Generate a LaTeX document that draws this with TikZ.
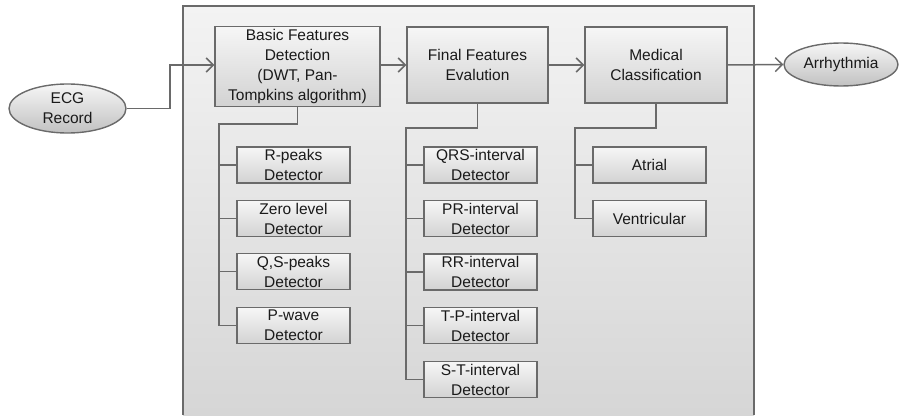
\documentclass[tikz,border=0pt]{standalone}
\usepackage{fontspec}
\setmainfont{Liberation Sans}
\usetikzlibrary{arrows.meta,shapes.geometric}
\definecolor{bordergray}{HTML}{6A6A6A}
\definecolor{boxtop}{HTML}{F6F6F6}
\definecolor{boxbot}{HTML}{D2D2D2}
\definecolor{paneltop}{HTML}{F3F3F3}
\definecolor{panelbot}{HTML}{D6D6D6}
\definecolor{txt}{HTML}{1A1A1A}
\begin{document}
\begin{tikzpicture}[x=1pt,y=-1pt,
  box/.style={draw=bordergray, line width=1.4pt, top color=boxtop, bottom color=boxbot,
    align=center, inner sep=0pt, font=\fontsize{15.5}{20}\selectfont, text=txt},
  mainbox/.style={box, minimum width=#1, minimum height=78pt},
  childbox/.style={box, minimum width=113pt, minimum height=36pt},
  oval/.style={ellipse, draw=bordergray, line width=1.4pt, top color=boxtop, bottom color=boxbot!92!black,
    align=center, inner sep=0pt, font=\fontsize{15.5}{20}\selectfont, text=txt},
  conn/.style={draw=bordergray, line width=1.5pt},
  arrow/.style={conn, -{Straight Barb[length=7pt,width=14pt,line width=1.5pt]}}
]
\useasboundingbox (0,0) rectangle (899,415);
% panel
\fill[top color=paneltop, bottom color=panelbot] (183,6) rectangle (754,415);
\draw[conn] (183,415) -- (183,6) -- (754,6) -- (754,415);

% main boxes
\node[mainbox=165pt, minimum height=80pt] (basic) at (297.5,66.5) {Basic Features\\Detection\\(DWT, Pan-\\Tompkins algorithm)};
\node[mainbox=141pt, minimum height=76pt] (final) at (477.5,65) {Final Features\\Evalution};
\node[mainbox=142pt, minimum height=76pt] (medical) at (656,65) {Medical\\Classification};

\node[oval, minimum width=117pt, minimum height=49pt] (ecg) at (67.5,108.5) {ECG\\Record};
\node[oval, minimum width=114pt, minimum height=43pt] (arr) at (841,64.5) {Arrhythmia};

% children of basic
\node[childbox] (b1) at (293.5,165) {R-peaks\\Detector};
\node[childbox] (b2) at (293.5,218.5) {Zero level\\Detector};
\node[childbox] (b3) at (293.5,271.5) {Q,S-peaks\\Detector};
\node[childbox] (b4) at (293.5,325.5) {P-wave\\Detector};

% children of final
\node[childbox] (f1) at (480.5,165) {QRS-interval\\Detector};
\node[childbox] (f2) at (480.5,218.5) {PR-interval\\Detector};
\node[childbox] (f3) at (480.5,272) {RR-interval\\Detector};
\node[childbox] (f4) at (480.5,325.5) {T-P-interval\\Detector};
\node[childbox] (f5) at (480.5,379.5) {S-T-interval\\Detector};

% children of medical
\node[childbox] (m1) at (649.5,165) {Atrial};
\node[childbox] (m2) at (649.5,218.5) {Ventricular};

% flow arrows
\coordinate (j1) at (170,0);
\draw[arrow] (ecg.east) -- (ecg.east -| j1) |- (basic.west |- final.west);
\draw[arrow] (basic.east |- final.west) -- (final.west);
\draw[arrow] (final.east) -- (medical.west);
\draw[arrow] (medical.east) -- (arr.west);

% trees
\coordinate (tb) at (219,124);
\draw[conn] (basic.south) |- (tb) -- (tb |- b4.west) -- (b4.west);
\foreach \n in {b1,b2,b3} \draw[conn] (tb |- \n.west) -- (\n.west);

\coordinate (tf) at (406,128);
\draw[conn] (final.south) |- (tf) -- (tf |- f5.west) -- (f5.west);
\foreach \n in {f1,f2,f3,f4} \draw[conn] (tf |- \n.west) -- (\n.west);

\coordinate (tm) at (575,128);
\draw[conn] (medical.south) |- (tm) -- (tm |- m2.west) -- (m2.west);
\draw[conn] (tm |- m1.west) -- (m1.west);
\end{tikzpicture}
\end{document}
